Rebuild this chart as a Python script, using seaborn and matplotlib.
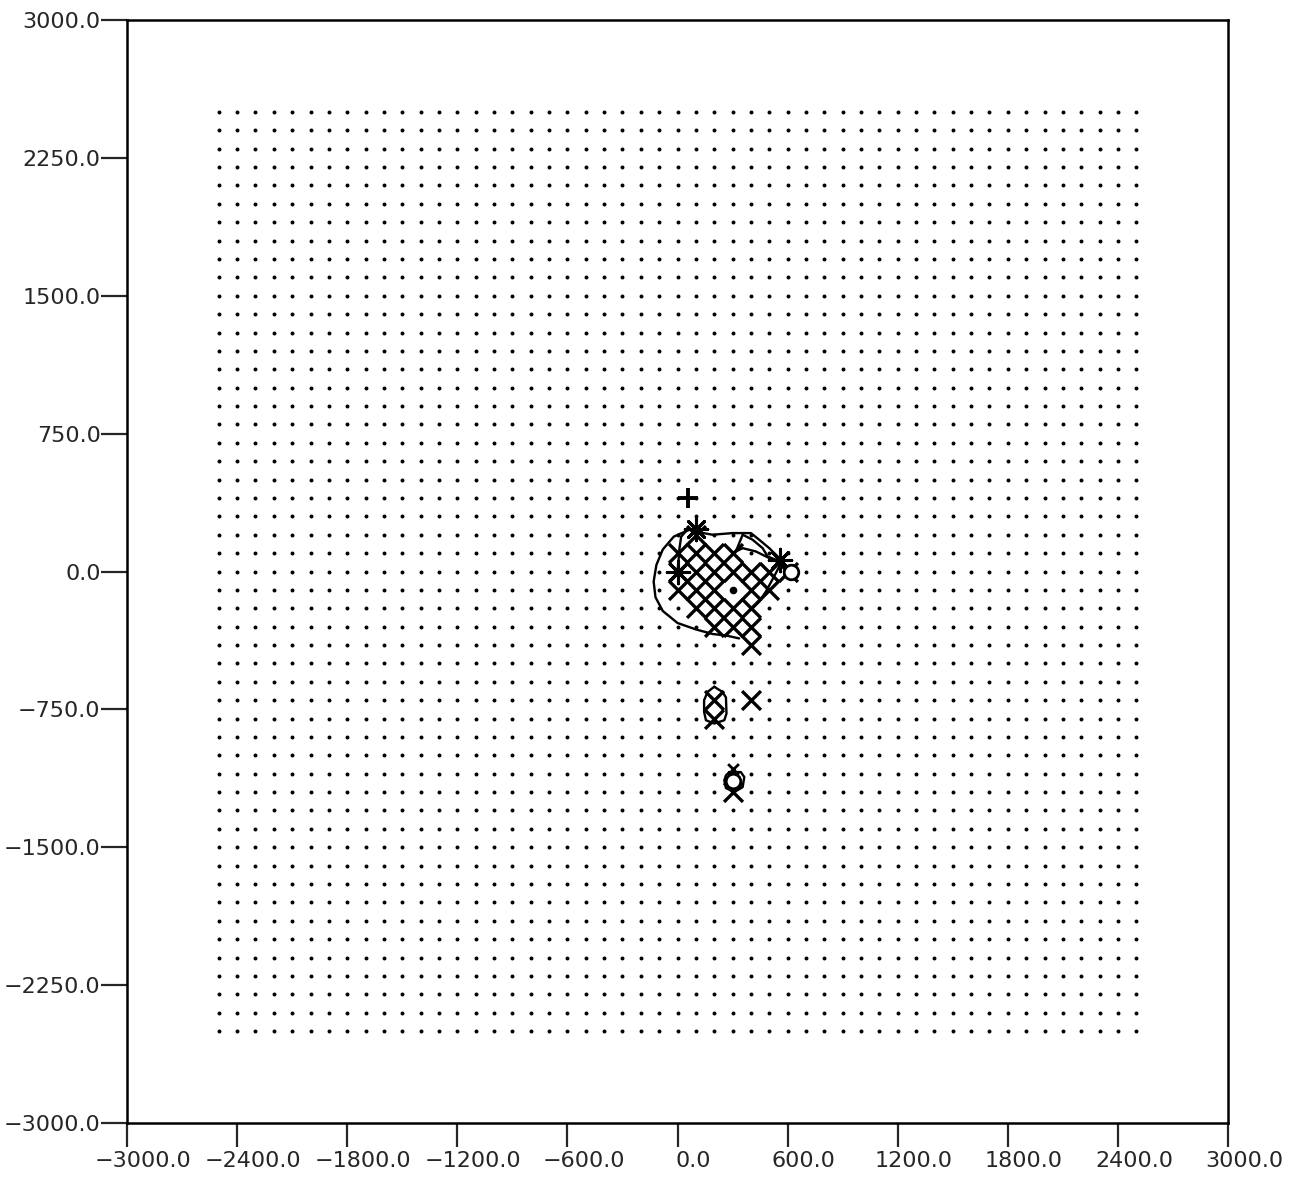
import numpy as np
import pandas as pd
import matplotlib
matplotlib.use("Agg")
import matplotlib.pyplot as plt
import matplotlib.transforms as mtransforms
import seaborn as sns

sns.set_style("white")
plt.rcParams['font.family'] = ['DejaVu Sans']

# receiver grid (every 100 m from -2500 to 2500)
grid_vals = np.arange(-2500, 2501, 100)

# flagged grid cells (x markers)
hit_x = [100,
         0, 100, 200, 300,
         0, 100, 200, 300, 400, 500, 600,
         0, 100, 200, 400, 500,
         100, 200, 300, 400,
         200, 300, 400,
         400,
         200, 200, 400, 300]
hit_y = [200,
         100, 100, 100, 100,
         0, 0, 0, 0, 0, 0, 0,
         -100, -100, -100, -100, -100,
         -200, -200, -200, -200,
         -300, -300, -300,
         -400,
         -700, -800, -700, -1200]

# other symbols
small_x_x = [300]
small_x_y = [-1075]
star_x = [100, 0, 560]
star_y = [230, 0, 60]
plus_x = [55]
plus_y = [400]
circ_x = [620, 300]
circ_y = [0, -1140]
centre_x = [300]
centre_y = [-100]

# contour lines
outer_x = [60, -20, -80, -115, -130, -120, -80, 0, 100, 191, 264, 336]
outer_y = [225, 190, 120, 36, -55, -140, -215, -280, -315, -340, -348, -364]
inner_x = [45, 20, 10, 5, 0]
inner_y = [218, 190, 120, 50, 0]
top_x = [91, 191, 300, 400, 445, 500, 564]
top_y = [218, 200, 209, 209, 173, 127, 64]
mid1_x = [318, 355, 409, 464, 491, 536]
mid1_y = [109, 200, 173, 127, 82, 64]
mid2_x = [318, 355, 427, 500, 536]
mid2_y = [109, 127, 109, 73, 55]
right_x = [564, 530, 482, 445, 409]
right_y = [45, -20, -109, -164, -200]
loop1_x = [200, 245, 264, 267, 255, 200, 155, 145, 145, 164, 200]
loop1_y = [-627, -655, -685, -773, -809, -827, -809, -764, -700, -655, -627]
loop2_x = [282, 345, 364, 355, 309, 264, 255, 264, 282]
loop2_y = [-1091, -1091, -1118, -1173, -1200, -1178, -1136, -1109, -1091]

xticks = [-3000, -2400, -1800, -1200, -600, 0, 600, 1200, 1800, 2400, 3000]
xtick_labels = ["\u22123000.0", "\u22122400.0", "\u22121800.0", "\u22121200.0", "\u2212600.0",
                "0.0", "600.0", "1200.0", "1800.0", "2400.0", "3000.0"]
yticks = [-3000, -2250, -1500, -750, 0, 750, 1500, 2250, 3000]
ytick_labels = ["\u22123000.0", "\u22122250.0", "\u22121500.0", "\u2212750.0", "0.0",
                "750.0", "1500.0", "2250.0", "3000.0"]

fig = plt.figure(figsize=(13.04, 11.79), dpi=100)
ax = fig.add_axes([127/1304, 56/1179, 1101/1304, 1103/1179])

gx, gy = np.meshgrid(grid_vals, grid_vals)
sns.scatterplot(x=gx.ravel(), y=gy.ravel(), s=8, color="black", linewidth=0, ax=ax, zorder=2)

for cx, cy in [(outer_x, outer_y), (inner_x, inner_y), (top_x, top_y), (mid1_x, mid1_y),
               (mid2_x, mid2_y), (right_x, right_y), (loop1_x, loop1_y), (loop2_x, loop2_y)]:
    sns.lineplot(x=cx, y=cy, sort=False, estimator=None, color="black", linewidth=1.7, ax=ax, zorder=3)

sns.scatterplot(x=hit_x, y=hit_y, marker="x", s=185, color="black", linewidth=2.4, ax=ax, zorder=4)
sns.scatterplot(x=small_x_x, y=small_x_y, marker="x", s=60, color="black", linewidth=2, ax=ax, zorder=4)
sns.scatterplot(x=star_x, y=star_y, marker=(8, 2, 0), s=260, color="black", linewidth=2.2, ax=ax, zorder=5)
sns.scatterplot(x=star_x, y=star_y, s=45, color="black", linewidth=0, ax=ax, zorder=5)
sns.scatterplot(x=plus_x, y=plus_y, marker="+", s=190, color="black", linewidth=2.8, ax=ax, zorder=5)
sns.scatterplot(x=circ_x, y=circ_y, s=110, facecolor="white", edgecolor="black", linewidth=2, ax=ax, zorder=5)
sns.scatterplot(x=centre_x, y=centre_y, s=30, color="black", linewidth=0, ax=ax, zorder=5)

ax.set_xlim(-3000, 3000)
ax.set_ylim(-3000, 3000)
ax.set_xticks(xticks)
ax.set_xticklabels(xtick_labels)
ax.set_yticks(yticks)
ax.set_yticklabels(ytick_labels)
ax.set_xlabel("")
ax.set_ylabel("")

for sp in ax.spines.values():
    sp.set_visible(True)
    sp.set_color("black")
    sp.set_linewidth(1.8)

ax.tick_params(axis="y", direction="out", length=19, width=1.6, pad=0, labelsize=16, left=True)
ax.tick_params(axis="x", direction="out", length=17, width=1.6, pad=3, labelsize=16, bottom=True)

offset = mtransforms.ScaledTranslation(0.16, 0, fig.dpi_scale_trans)
for lbl in ax.get_xticklabels():
    lbl.set_transform(lbl.get_transform() + offset)

fig.savefig("out.png", dpi=100)
